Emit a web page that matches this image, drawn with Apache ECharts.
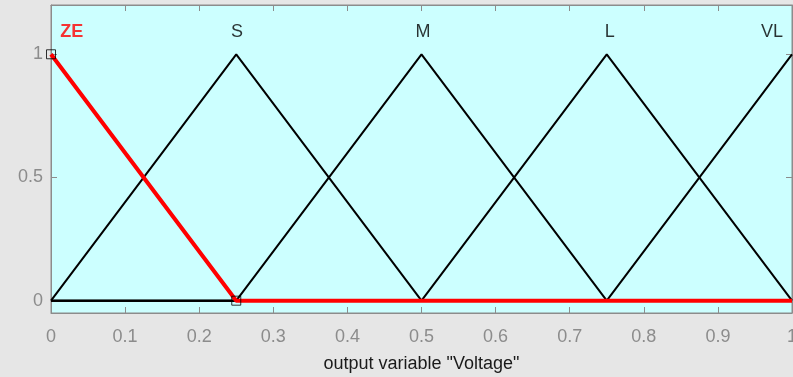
<!DOCTYPE html>
<html>
<head>
<meta charset="utf-8">
<script src="https://cdn.jsdelivr.net/npm/echarts@6/dist/echarts.min.js"></script>
<style>
  html, body { margin: 0; padding: 0; background: #e6e6e6; }
  #chart { width: 793px; height: 377px; }
</style>
</head>
<body>
<div id="chart"></div>
<script>
// membership functions (x, mu)
let mfZE = [[0, 1], [0.25, 0], [1, 0]]
let mfS = [[0, 0], [0.25, 1], [0.5, 0], [1, 0]]
let mfM = [[0, 0], [0.25, 0], [0.5, 1], [0.75, 0], [1, 0]]
let mfL = [[0, 0], [0.5, 0], [0.75, 1], [1, 0]]
let mfVL = [[0, 0], [0.75, 0], [1, 1]]
// selected vertices of ZE
let zeVertices = [[0, 1], [0.25, 0]]
// mf names and where they are written
let mfNames = ['ZE', 'S', 'M', 'L', 'VL']
let mfNameX = [0.028, 0.251, 0.502, 0.754, 0.973]
let mfNameY = 1.09
let xTicks = [0, 0.1, 0.2, 0.3, 0.4, 0.5, 0.6, 0.7, 0.8, 0.9, 1]
let yTicks = [0, 0.5, 1]

let chart = echarts.init(document.getElementById('chart'))

function mfLine(name, data, color, width, z) {
  return {
    name: name,
    type: 'line',
    data: data,
    symbol: 'none',
    z: z,
    lineStyle: { color: color, width: width },
    animation: false
  }
}

let axisGrey = '#8c8c8c'

chart.setOption({
  backgroundColor: '#e6e6e6',
  animation: false,
  grid: {
    left: 51,
    right: 1,
    top: 5,
    bottom: 64,
    outerBoundsMode: 'none',
    show: true,
    backgroundColor: '#ccffff',
    borderColor: axisGrey,
    borderWidth: 1
  },
  xAxis: [{
    type: 'value',
    min: 0,
    max: 1,
    name: 'output variable "Voltage"',
    nameLocation: 'middle',
    nameGap: 42,
    nameMoveOverlap: false,
    nameTextStyle: { color: '#1a1a1a', fontSize: 18, fontFamily: 'Liberation Sans' },
    axisLine: { show: true, onZero: false, lineStyle: { color: axisGrey } },
    // 刻度朝里
    axisTick: { show: true, inside: true, length: 6, customValues: xTicks, lineStyle: { color: axisGrey } },
    axisLabel: { customValues: xTicks, color: axisGrey, fontSize: 18, margin: 15, fontFamily: 'Liberation Sans' },
    splitLine: { show: false }
  }, {
    type: 'value',
    position: 'top',
    min: 0,
    max: 1,
    axisLine: { show: true, onZero: false, lineStyle: { color: axisGrey } },
    axisTick: { show: true, inside: true, length: 6, customValues: xTicks, lineStyle: { color: axisGrey } },
    axisLabel: { show: false },
    splitLine: { show: false }
  }],
  yAxis: [{
    type: 'value',
    min: -0.05,
    max: 1.2,
    axisLine: { show: true, onZero: false, lineStyle: { color: axisGrey } },
    axisTick: { show: true, inside: true, length: 6, customValues: yTicks, lineStyle: { color: axisGrey } },
    axisLabel: { customValues: yTicks, color: axisGrey, fontSize: 18, margin: 8, fontFamily: 'Liberation Sans' },
    splitLine: { show: false }
  }, {
    type: 'value',
    position: 'right',
    min: -0.05,
    max: 1.2,
    axisLine: { show: true, onZero: false, lineStyle: { color: axisGrey } },
    axisTick: { show: true, inside: true, length: 6, customValues: yTicks, lineStyle: { color: axisGrey } },
    axisLabel: { show: false },
    splitLine: { show: false }
  }],
  series: [
    mfLine('S', mfS, '#000', 2, 2),
    mfLine('M', mfM, '#000', 2, 2),
    mfLine('L', mfL, '#000', 2, 2),
    mfLine('VL', mfVL, '#000', 2, 2),
    mfLine('ZE', mfZE, '#ff0000', 4, 3),
    {
      type: 'scatter',
      data: zeVertices,
      symbol: 'rect',
      symbolSize: 9,
      z: 4,
      itemStyle: { color: 'rgba(0,0,0,0)', borderColor: '#000', borderWidth: 1 },
      animation: false
    },
    {
      type: 'scatter',
      // ZE is the selected mf: red bold name
      data: mfNames.map((n, i) => ({
        value: [mfNameX[i], mfNameY, n],
        label: n === 'ZE' ? { color: '#ff0000', fontWeight: 'bold' } : { color: '#000' }
      })),
      symbolSize: 0,
      z: 5,
      label: {
        show: true,
        position: 'inside',
        formatter: p => p.value[2],
        fontSize: 18,
        fontFamily: 'Liberation Sans'
      },
      animation: false
    }
  ]
})
</script>
</body>
</html>
